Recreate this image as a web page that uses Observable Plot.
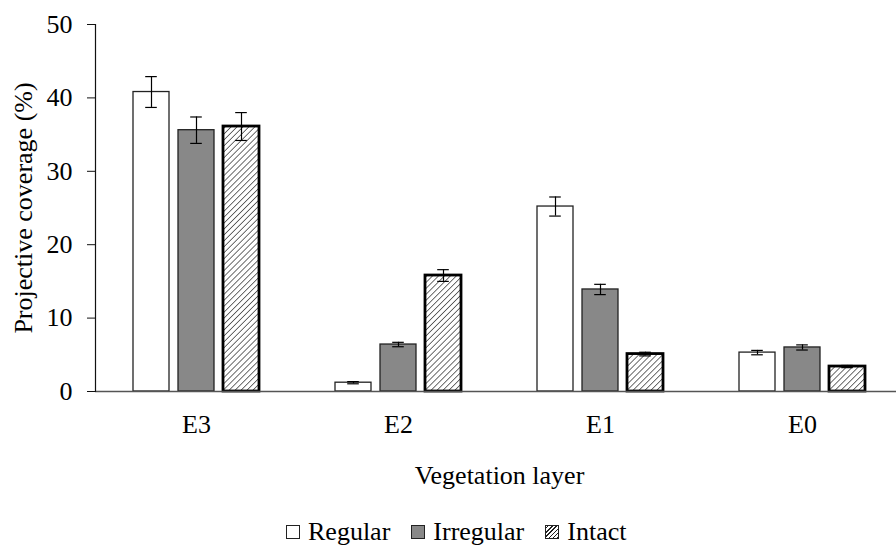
<!DOCTYPE html>
<html>
<head>
<meta charset="utf-8">
<script src="https://cdn.jsdelivr.net/npm/d3@7"></script>
<script src="https://cdn.jsdelivr.net/npm/@observablehq/plot@0.6"></script>
<style>
  html, body { margin: 0; padding: 0; background: white; }
  #chart svg { display: block; }
  .legend { font-family: "Liberation Serif", serif; font-size: 26px; color: black;
            display: flex; align-items: center; padding-left: 286px; margin-top: 17px; line-height: 30px; }
  .legend .item { display: flex; align-items: center; margin-right: 21px; }
  .legend .sw { width: 12px; height: 12px; border: 1px solid #222; margin-right: 8px; box-sizing: content-box; }
</style>
</head>
<body>
<div id="chart"></div>
<div class="legend" id="legend"></div>
<script>
// ---- data ----
const layers = ["E3", "E2", "E1", "E0"];
const types = ["Regular", "Irregular", "Intact"];
const regular = [40.8, 1.2, 25.2, 5.3];
const regularErr = [2.1, 0.15, 1.3, 0.3];
const irregular = [35.6, 6.4, 13.9, 6.0];
const irregularErr = [1.8, 0.3, 0.7, 0.35];
const intact = [36.1, 15.8, 5.1, 3.4];
const intactErr = [1.9, 0.8, 0.25, 0.15];
const yTicks = [0, 10, 20, 30, 40, 50];
const fills = ["white", "#888888", "url(#hatch)"];

const series = [regular, irregular, intact];
const errs = [regularErr, irregularErr, intactErr];
const rows = layers.flatMap((layer, i) => types.map((type, j) => ({
  layer, type, value: series[j][i], err: errs[j][i],
  lo: series[j][i] - errs[j][i], hi: series[j][i] + errs[j][i]
})));

const chart = Plot.plot({
  width: 896,
  height: 500,
  marginTop: 24,
  marginBottom: 109,
  marginLeft: 94,
  marginRight: 0,
  style: { fontFamily: "Liberation Serif", fontSize: "26px", color: "black", background: "white", overflow: "hidden" },
  fx: { domain: layers, range: [93.75, 903.75], paddingInner: 0, paddingOuter: 0 },
  x: { domain: types, paddingInner: 0.2, paddingOuter: 0.825, axis: null },
  y: { domain: [0, 50] },
  color: { type: "ordinal", domain: types, range: fills },
  marks: [
    Plot.barY(rows, {
      fx: "layer", x: "type", y: "value", fill: "type",
      stroke: d => d.type === "Intact" ? "#000" : "#222",
      strokeWidth: d => d.type === "Intact" ? 2.8 : 1.3
    }),
    Plot.ruleY([0], { stroke: "#555", strokeWidth: 1.5 }),
    Plot.frame({ anchor: "left", facetAnchor: "left", stroke: "#111", strokeWidth: 1.2 }),
    Plot.ruleX(rows, { fx: "layer", x: "type", y1: "lo", y2: "hi", stroke: "#000", strokeWidth: 1.2 }),
    Plot.tickY(rows, { fx: "layer", x: "type", y: "hi", stroke: "#000", strokeWidth: 1.2, insetLeft: 12.2, insetRight: 12.2 }),
    Plot.tickY(rows, { fx: "layer", x: "type", y: "lo", stroke: "#000", strokeWidth: 1.2, insetLeft: 12.2, insetRight: 12.2 }),
    Plot.axisY({ ticks: yTicks, tickSize: 8, tickPadding: 15, label: "Projective coverage (%)", labelArrow: "none", labelAnchor: "center", labelOffset: 82, stroke: "#111" }),
    Plot.axisFx({ anchor: "bottom", tickSize: 0, tickPadding: 23, label: "Vegetation layer", labelArrow: "none", labelAnchor: "center", labelOffset: 92 })
  ]
});

// hatch pattern definition
const svg = chart.tagName.toLowerCase() === "svg" ? chart : chart.querySelector("svg");
const defs = d3.select(svg).insert("defs", ":first-child");
const pat = defs.append("pattern")
  .attr("id", "hatch").attr("patternUnits", "userSpaceOnUse")
  .attr("width", 4.2).attr("height", 4.2)
  .attr("patternTransform", "rotate(45)");
pat.append("rect").attr("width", 4.2).attr("height", 4.2).attr("fill", "white");
pat.append("line").attr("x1", 0).attr("y1", 0).attr("x2", 0).attr("y2", 4.2)
  .attr("stroke", "#222").attr("stroke-width", 1.3);

document.getElementById("chart").appendChild(chart);

// legend
const legend = d3.select("#legend");
const swatchBg = [
  "white",
  "#888888",
  "repeating-linear-gradient(-45deg, #222 0 1px, white 1px 3px)"
];
types.forEach((t, i) => {
  const item = legend.append("div").attr("class", "item");
  item.append("div").attr("class", "sw").style("background", swatchBg[i]);
  item.append("span").text(t);
});
</script>
</body>
</html>
